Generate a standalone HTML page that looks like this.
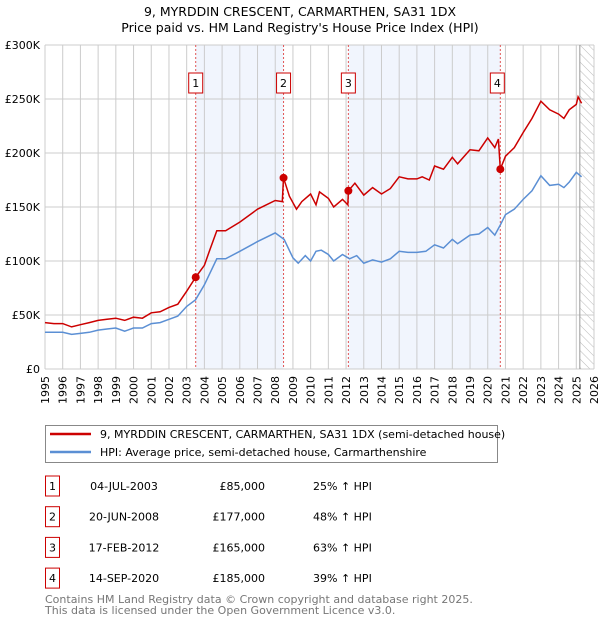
<!DOCTYPE html>
<html><head><meta charset="utf-8"><style>
body{margin:0;background:#fff;font-family:"Liberation Sans","DejaVu Sans",sans-serif;}
svg text{font-family:"DejaVu Sans","Liberation Sans",sans-serif;}
</style></head><body>
<svg width="600" height="620" xmlns="http://www.w3.org/2000/svg">
<defs><pattern id="hatch" width="6" height="6" patternUnits="userSpaceOnUse" patternTransform="rotate(-45)"><line x1="0" y1="0" x2="0" y2="6" stroke="#bbb" stroke-width="1"/></pattern></defs>
<text x="300" y="16" text-anchor="middle" font-size="12.5">9, MYRDDIN CRESCENT, CARMARTHEN, SA31 1DX</text>
<text x="300" y="32" text-anchor="middle" font-size="12.5">Price paid vs. HM Land Registry's House Price Index (HPI)</text>
<g id="plot"></g>
<g id="legend">
<rect x="45.5" y="425.5" width="452" height="37" fill="#fff" stroke="#888"/>
<line x1="50" y1="434" x2="91" y2="434" stroke="#cc0000" stroke-width="2.5"/>
<text x="100" y="438" font-size="11">9, MYRDDIN CRESCENT, CARMARTHEN, SA31 1DX (semi-detached house)</text>
<line x1="50" y1="452" x2="91" y2="452" stroke="#5b8fd4" stroke-width="2.5"/>
<text x="100" y="456" font-size="11">HPI: Average price, semi-detached house, Carmarthenshire</text>
</g>
<g id="table"></g>
<text x="45" y="603" font-size="11" fill="#777">Contains HM Land Registry data © Crown copyright and database right 2025.</text>
<text x="45" y="614" font-size="11" fill="#777">This data is licensed under the Open Government Licence v3.0.</text>
</svg>
<script>
const yTicks=[0,50000,100000,150000,200000,250000,300000];
const yTickLabels=["£0","£50K","£100K","£150K","£200K","£250K","£300K"];
const xYears=[1995,1996,1997,1998,1999,2000,2001,2002,2003,2004,2005,2006,2007,2008,2009,2010,2011,2012,2013,2014,2015,2016,2017,2018,2019,2020,2021,2022,2023,2024,2025,2026];
const saleDates=[2003.51,2008.47,2012.13,2020.71];
const salePrices=[85000,177000,165000,185000];
const saleLabels=["1","2","3","4"];
const saleDateText=["04-JUL-2003","20-JUN-2008","17-FEB-2012","14-SEP-2020"];
const salePriceText=["£85,000","£177,000","£165,000","£185,000"];
const saleHpiText=["25% ↑ HPI","48% ↑ HPI","63% ↑ HPI","39% ↑ HPI"];
const redT=[1995,1995.5,1996,1996.5,1997,1997.5,1998,1998.5,1999,1999.5,2000,2000.5,2001,2001.5,2002,2002.5,2003,2003.51,2004,2004.3,2004.7,2005.2,2006,2007,2007.5,2008,2008.4,2008.47,2008.8,2009.2,2009.5,2010,2010.3,2010.5,2011,2011.3,2011.8,2012.1,2012.13,2012.5,2013,2013.5,2014,2014.5,2015,2015.5,2016,2016.3,2016.7,2017,2017.5,2018,2018.3,2019,2019.5,2020,2020.4,2020.6,2020.71,2021,2021.5,2022,2022.5,2023,2023.5,2024,2024.3,2024.6,2025,2025.1,2025.3];
const redV=[43,42,42,39,41,43,45,46,47,45,48,47,52,53,57,60,72,85,96,110,128,128,136,148,152,156,155,177,160,148,155,162,152,164,158,150,157,152,165,172,161,168,162,167,178,176,176,178,175,188,185,196,190,203,202,214,205,213,185,197,205,219,232,248,240,236,232,240,245,252,246];
const blueT=[1995,1995.5,1996,1996.5,1997,1997.5,1998,1998.5,1999,1999.5,2000,2000.5,2001,2001.5,2002,2002.5,2003,2003.5,2004,2004.7,2005.2,2006,2007,2008,2008.5,2009,2009.3,2009.7,2010,2010.3,2010.6,2011,2011.3,2011.8,2012.2,2012.6,2013,2013.5,2014,2014.5,2015,2015.5,2016,2016.5,2017,2017.5,2018,2018.3,2019,2019.5,2020,2020.4,2020.7,2021,2021.5,2022,2022.5,2023,2023.5,2024,2024.3,2024.6,2025,2025.3];
const blueV=[34,34,34,32,33,34,36,37,38,35,38,38,42,43,46,49,58,64,78,102,102,109,118,126,120,103,98,105,100,109,110,106,100,106,102,105,98,101,99,102,109,108,108,109,115,112,120,116,124,125,131,124,133,143,148,157,165,179,170,171,168,173,182,178];
const X0=45,X1=594,Y0=369,Y1=45;
const xs=t=>X0+(t-1995)/(2026-1995)*(X1-X0);
const ys=v=>Y0-v/300000*(Y0-Y1);
const NS="http://www.w3.org/2000/svg";
const plot=document.getElementById('plot');
function mk(tag,attrs,parent){const e=document.createElementNS(NS,tag);for(const k in attrs)e.setAttribute(k,attrs[k]);(parent||plot).appendChild(e);return e;}
for(let i=0;i<4;i+=2){const r=mk('rect',{x:xs(saleDates[i]),y:Y1,width:xs(saleDates[i+1])-xs(saleDates[i]),height:Y0-Y1,fill:'#eef2fc',opacity:0.8});

}
const hx=xs(2025.2);
const hr=mk('rect',{x:hx,y:Y1,width:X1-hx,height:Y0-Y1,fill:'url(#hatch)'});


xYears.forEach(y=>{const l=mk('line',{x1:xs(y),x2:xs(y),y1:Y1,y2:Y0,stroke:'#ccc','stroke-width':1});


const tx=xs(y)+4, ty=Y0+7;
const t=mk('text',{x:tx,y:ty,'font-size':11,'text-anchor':'end',transform:'rotate(-90 '+tx+' '+ty+')'});t.textContent=y;

});
yTicks.forEach((v,i)=>{const l=mk('line',{x1:X0,x2:X1,y1:ys(v),y2:ys(v),stroke:'#ccc','stroke-width':1});


const t=mk('text',{x:X0-5,y:ys(v)+4,'font-size':11,'text-anchor':'end'});t.textContent=yTickLabels[i];

});
mk('line',{x1:hx,x2:hx,y1:Y1,y2:Y0,stroke:'#999'});
saleDates.forEach((d,i)=>{const l=mk('line',{x1:xs(d),x2:xs(d),y1:Y1,y2:Y0,stroke:'#e05555','stroke-dasharray':'2,2','stroke-width':1});


const bx=xs(d)-7-(i==3?3:0);
const r=mk('rect',{x:bx,y:73,width:14,height:20,fill:'#fff',stroke:'#cc0000'});


const t=mk('text',{x:bx+7,y:87,'font-size':11,'text-anchor':'middle'});t.textContent=saleLabels[i];});
const pts=(T,V)=>T.map((t,i)=>xs(t).toFixed(1)+','+ys(V[i]*1000).toFixed(1)).join(' ');
const bl=mk('polyline',{points:pts(blueT,blueV),fill:'none',stroke:'#5b8fd4','stroke-width':1.5});


const rl=mk('polyline',{points:pts(redT,redV),fill:'none',stroke:'#cc0000','stroke-width':1.5});


saleDates.forEach((d,i)=>{const c=mk('circle',{cx:xs(d),cy:ys(salePrices[i]),r:4,fill:'#cc0000'});

});
const tb=document.getElementById('table');
saleLabels.forEach((s,i)=>{const y=486+i*30.7;
const r=mk('rect',{x:45.5,y:y-10,width:14,height:20,fill:'#fff',stroke:'#cc0000'},tb);


const vals=[[52.5,s,'middle'],[124,saleDateText[i],'middle'],[265,salePriceText[i],'end'],[313,saleHpiText[i],'start']];
vals.forEach(v=>{const t=mk('text',{x:v[0],y:y+4,'font-size':11,'text-anchor':v[2]},tb);t.textContent=v[1];

});});
</script>
</body></html>
